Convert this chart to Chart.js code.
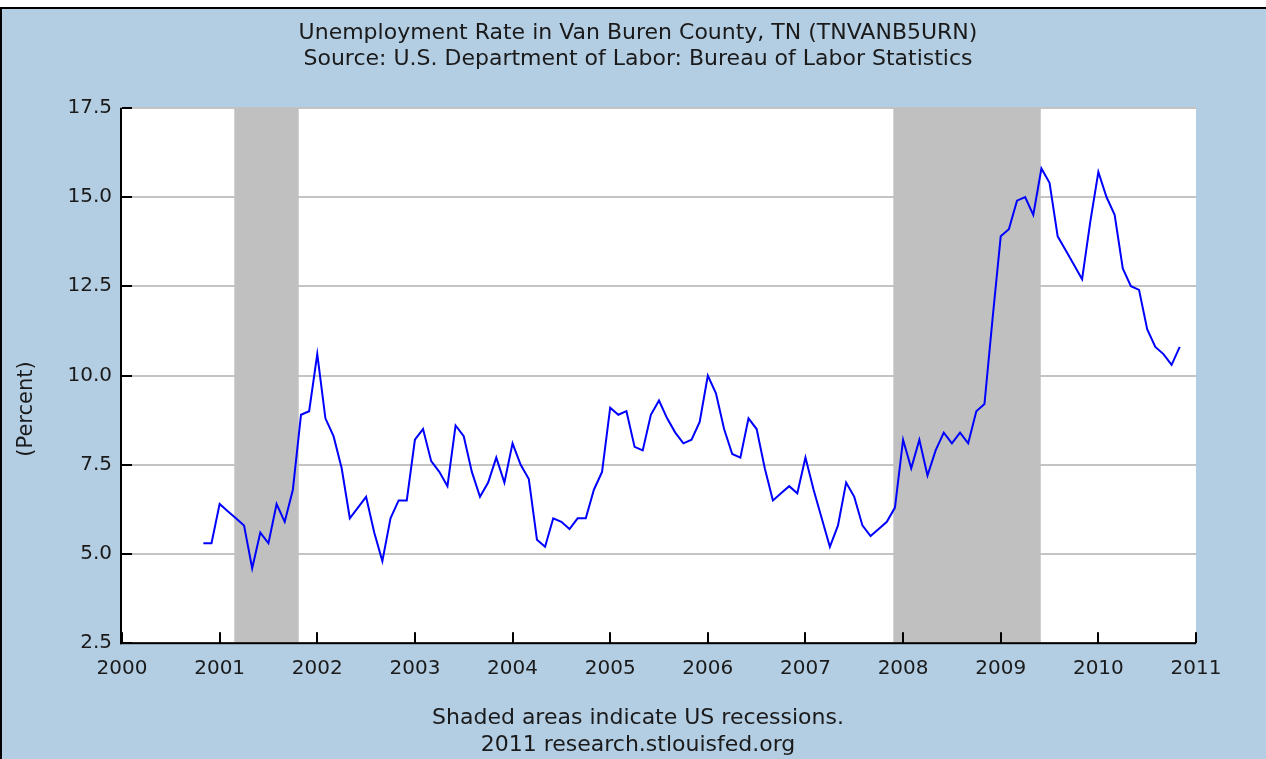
<!DOCTYPE html>
<html>
<head>
<meta charset="utf-8">
<title>Unemployment Rate in Van Buren County, TN</title>
<script src="https://cdn.jsdelivr.net/npm/chart.js@4.4.0/dist/chart.umd.min.js"></script>
<style>
  html, body { margin: 0; padding: 0; background: #fff; }
  #chart { display: block; }
</style>
</head>
<body>
<canvas id="chart" width="1266" height="759"></canvas>
<script>
// monthly rate, Nov 2000 - Nov 2010
const startYear = 2000
const startMonth = 10 // 0-based, November
const rates = [
  5.3, 5.3,                                                        // 2000
  6.4, 6.2, 6.0, 5.8, 4.6, 5.6, 5.3, 6.4, 5.9, 6.8, 8.9, 9.0,      // 2001
  10.6, 8.8, 8.3, 7.4, 6.0, 6.3, 6.6, 5.6, 4.8, 6.0, 6.5, 6.5,     // 2002
  8.2, 8.5, 7.6, 7.3, 6.9, 8.6, 8.3, 7.3, 6.6, 7.0, 7.7, 7.0,      // 2003
  8.1, 7.5, 7.1, 5.4, 5.2, 6.0, 5.9, 5.7, 6.0, 6.0, 6.8, 7.3,      // 2004
  9.1, 8.9, 9.0, 8.0, 7.9, 8.9, 9.3, 8.8, 8.4, 8.1, 8.2, 8.7,      // 2005
  10.0, 9.5, 8.5, 7.8, 7.7, 8.8, 8.5, 7.4, 6.5, 6.7, 6.9, 6.7,     // 2006
  7.7, 6.8, 6.0, 5.2, 5.8, 7.0, 6.6, 5.8, 5.5, 5.7, 5.9, 6.3,      // 2007
  8.2, 7.4, 8.2, 7.2, 7.9, 8.4, 8.1, 8.4, 8.1, 9.0, 9.2, 11.6,     // 2008
  13.9, 14.1, 14.9, 15.0, 14.5, 15.8, 15.4, 13.9, 13.5, 13.1, 12.7, 14.3, // 2009
  15.7, 15.0, 14.5, 13.0, 12.5, 12.4, 11.3, 10.8, 10.6, 10.3, 10.8  // 2010
]

// US recessions (year fractions)
const recessionStart = [2001.15, 2007.9]
const recessionEnd = [2001.81, 2009.41]

const yearTicks = [2000, 2001, 2002, 2003, 2004, 2005, 2006, 2007, 2008, 2009, 2010, 2011]
const rateTicks = [2.5, 5.0, 7.5, 10.0, 12.5, 15.0, 17.5]

const titleLines = [
  'Unemployment Rate in Van Buren County, TN (TNVANB5URN)',
  'Source: U.S. Department of Labor: Bureau of Labor Statistics'
]
const footerLines = [
  'Shaded areas indicate US recessions.',
  '2011 research.stlouisfed.org'
]
const yTitle = '(Percent)'

const FONT = 'DejaVu Sans'
const TEXT = '#1a1a1a'
const PANEL = '#b3cde3'

const points = rates.map((v, i) => ({ x: startYear + (startMonth + i) / 12, y: v }))

// background panel, white plot area and the rotated axis title
const frame = {
  id: 'frame',
  beforeDraw(chart) {
    const { ctx, chartArea: a, width, height } = chart
    ctx.save()
    ctx.fillStyle = '#fff'
    ctx.fillRect(0, 0, width, height)
    ctx.fillStyle = PANEL
    ctx.fillRect(0, 7, width, height - 7)
    ctx.fillStyle = '#000'
    ctx.fillRect(0, 7, width, 2)
    ctx.fillRect(0, 7, 2, height - 7)
    ctx.fillStyle = '#fff'
    ctx.fillRect(a.left, a.top, a.right - a.left, a.bottom - a.top)
    ctx.restore()
  },
  afterDraw(chart) {
    const { ctx } = chart
    ctx.save()
    ctx.translate(27, 409)
    ctx.rotate(-Math.PI / 2)
    ctx.font = '21px "' + FONT + '"'
    ctx.fillStyle = TEXT
    ctx.textAlign = 'center'
    ctx.textBaseline = 'middle'
    ctx.fillText(yTitle, 0, 0)
    ctx.restore()
  }
}

// grey recession bands, drawn over the grid but under the line
const recessions = {
  id: 'recessions',
  beforeDatasetsDraw(chart) {
    const { ctx, chartArea: a, scales } = chart
    ctx.save()
    ctx.fillStyle = '#c0c0c0'
    recessionStart.forEach((s, i) => {
      const x0 = scales.x.getPixelForValue(s)
      const x1 = scales.x.getPixelForValue(recessionEnd[i])
      ctx.fillRect(x0, a.top, x1 - x0, a.bottom - a.top)
    })
    ctx.restore()
  }
}

// axis lines with inward tick marks
const axes = {
  id: 'axes',
  afterDatasetsDraw(chart) {
    const { ctx, chartArea: a, scales } = chart
    ctx.save()
    ctx.fillStyle = '#000'
    ctx.fillRect(a.left - 2, a.top, 2, a.bottom - a.top + 1)
    ctx.fillRect(a.left - 2, a.bottom - 1, a.right - a.left + 2, 2)
    scales.y.ticks.forEach(t => {
      const y = Math.round(scales.y.getPixelForValue(t.value))
      ctx.fillRect(a.left, y - 1, 10, 2)
    })
    scales.x.ticks.forEach(t => {
      const x = Math.round(scales.x.getPixelForValue(t.value))
      ctx.fillRect(x - 1, a.bottom - 11, 2, 11)
    })
    ctx.restore()
  }
}

const config = {
  type: 'line',
  data: {
    datasets: [{
      label: 'TNVANB5URN',
      data: points,
      borderColor: '#0000ff',
      borderWidth: 2,
      pointRadius: 0,
      tension: 0,
      fill: false
    }]
  },
  options: {
    responsive: false,
    animation: false,
    layout: { padding: { left: 10, right: 0, top: 0, bottom: 0 } },
    plugins: {
      legend: { display: false },
      tooltip: { enabled: false },
      title: {
        display: true,
        text: titleLines,
        color: TEXT,
        font: { family: FONT, size: 22, weight: 'normal', lineHeight: 1.2 },
        padding: { top: 20, bottom: 35 }
      },
      subtitle: {
        display: true,
        position: 'bottom',
        text: footerLines,
        color: TEXT,
        font: { family: FONT, size: 22, weight: 'normal', lineHeight: 1.2 },
        padding: { top: 0, bottom: 1 }
      }
    },
    scales: {
      x: {
        type: 'linear',
        min: yearTicks[0],
        max: yearTicks[yearTicks.length - 1],
        afterBuildTicks: s => { s.ticks = yearTicks.map(v => ({ value: v })) },
        afterFit: s => { s.height = 62 },
        grid: { display: false, drawTicks: false },
        border: { display: false },
        ticks: {
          color: TEXT,
          padding: 14,
          maxRotation: 0,
          autoSkip: false,
          font: { family: FONT, size: 20 },
          callback: v => String(v)
        }
      },
      y: {
        min: rateTicks[0],
        max: rateTicks[rateTicks.length - 1],
        afterBuildTicks: s => { s.ticks = rateTicks.map(v => ({ value: v })) },
        afterFit: s => { s.width = 112 },
        grid: { color: '#c4c4c4', lineWidth: 2, drawTicks: false },
        border: { display: false },
        ticks: {
          color: TEXT,
          padding: 10,
          font: { family: FONT, size: 20 },
          callback: v => v.toFixed(1)
        }
      },
      // empty margin on the right of the plot
      yRight: {
        position: 'right',
        min: rateTicks[0],
        max: rateTicks[rateTicks.length - 1],
        afterFit: s => { s.width = 70 },
        grid: { display: false, drawTicks: false },
        border: { display: false },
        ticks: { display: false }
      }
    }
  },
  plugins: [frame, recessions, axes]
}

window.rateChart = new Chart(document.getElementById('chart'), config)
</script>
</body>
</html>
